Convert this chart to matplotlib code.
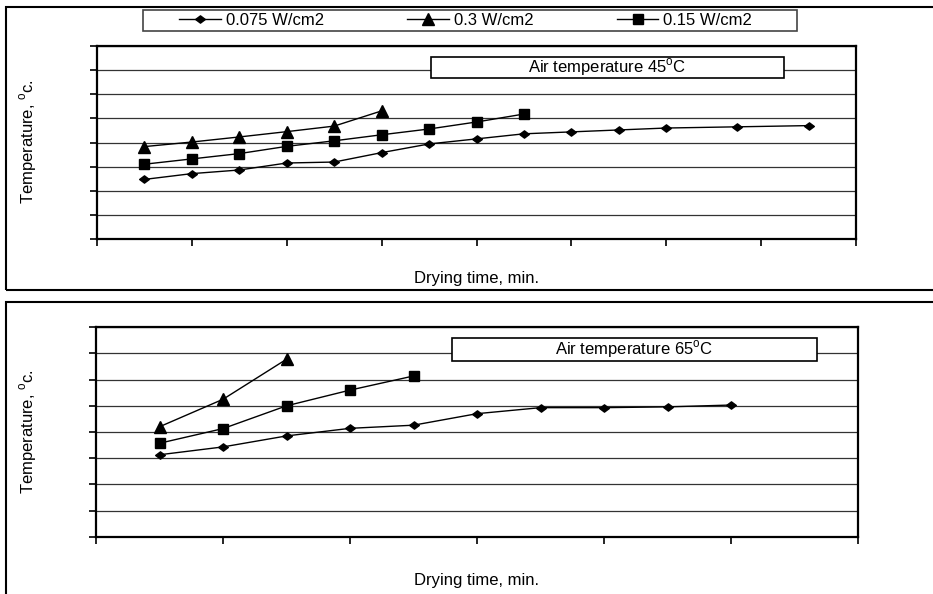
import matplotlib
matplotlib.use("Agg")
import matplotlib.pyplot as plt
from matplotlib.patches import Rectangle
from matplotlib.path import Path
import numpy as np

plt.rcParams['font.family'] = ['Liberation Sans', 'DejaVu Sans']
plt.rcParams['mathtext.fontset'] = 'custom'
plt.rcParams['mathtext.rm'] = 'Liberation Sans'

# ---- data (time in min, temperature in degC) ----
series_labels = ["0.075 W/cm2", "0.3 W/cm2", "0.15 W/cm2"]

t45_low = [10, 20, 30, 40, 50, 60, 70, 80, 90, 100, 110, 120, 135, 150]
T45_low = [24.7, 27.1, 28.6, 31.5, 31.9, 35.8, 39.4, 41.5, 43.6, 44.4, 45.2, 46.0, 46.5, 47.0]
t45_high = [10, 20, 30, 40, 50, 60]
T45_high = [38.3, 40.2, 42.3, 44.5, 46.8, 53.1]
t45_mid = [10, 20, 30, 40, 50, 60, 70, 80, 90]
T45_mid = [31.0, 33.2, 35.4, 38.4, 40.7, 43.2, 45.6, 48.5, 51.8]

t65_low = [10, 20, 30, 40, 50, 60, 70, 80, 90, 100]
T65_low = [31.3, 34.3, 38.5, 41.4, 42.6, 47.0, 49.3, 49.3, 49.6, 50.3]
t65_high = [10, 20, 30]
T65_high = [42.0, 52.5, 67.8]
t65_mid = [10, 20, 30, 40, 50]
T65_mid = [35.7, 41.3, 50.0, 56.0, 61.4]

panel_titles = ["Air temperature 45$^{\\rm o}$C", "Air temperature 65$^{\\rm o}$C"]
xlabel = "Drying time, min."
ylabel = "Temperature, $^{\\rm o}$c."

W, H = 933, 594
fig = plt.figure(figsize=(W / 100, H / 100), dpi=100)

def fx(px):
    return px / W

def fy(py):
    return 1 - py / H

diamond = Path([(-1, 0), (0, 0.75), (1, 0), (0, -0.75), (-1, 0)],
               [Path.MOVETO, Path.LINETO, Path.LINETO, Path.LINETO, Path.CLOSEPOLY])

# outer frames
fig.patches.append(Rectangle((fx(6), fy(290)), fx(940) - fx(6), fy(7) - fy(290),
                             transform=fig.transFigure, fill=False, ec='black', lw=1.5))
fig.patches.append(Rectangle((fx(6), fy(600)), fx(940) - fx(6), fy(302) - fy(600),
                             transform=fig.transFigure, fill=False, ec='black', lw=1.5))

def make_panel(rect, xmax, data, title, boxpx):
    ax = fig.add_axes(rect)
    ax.set_xlim(0, xmax)
    ax.set_ylim(0, 80)
    ax.set_xticks(np.arange(0, xmax + 1, 20))
    ax.set_yticks(np.arange(0, 81, 10))
    ax.set_xticklabels([])
    ax.set_yticklabels([])
    ax.tick_params(direction='out', length=5, width=1.2, color='black')
    for s in ax.spines.values():
        s.set_linewidth(1.6)
        s.set_color('black')
    ax.yaxis.grid(True, color='#333333', lw=0.9)
    ax.set_axisbelow(True)
    handles = []
    markers = [diamond, '^', 's']
    msizes = [7, 8, 7]
    for (x, y), m, ms, lab in zip(data, markers, msizes, series_labels):
        h, = ax.plot(x, y, color='black', lw=1.0, marker=m, ms=ms,
                     mfc='black', mec='black', label=lab, zorder=3)
        handles.append(h)
    x0, x1, y0, y1 = boxpx
    fig.patches.append(Rectangle((fx(x0), fy(y1)), fx(x1) - fx(x0), fy(y0) - fy(y1),
                                 transform=fig.transFigure, fc='white', ec='black',
                                 lw=1.2, zorder=5))
    fig.text(fx((x0 + x1) / 2), fy((y0 + y1) / 2), title, ha='center', va='center',
             fontsize=12, zorder=6)
    return ax, handles

ax1, handles = make_panel([fx(97), fy(239), fx(856) - fx(97), fy(46) - fy(239)], 160,
                          [(t45_low, T45_low), (t45_high, T45_high), (t45_mid, T45_mid)],
                          panel_titles[0], (431, 784, 57, 78))
ax2, _ = make_panel([fx(96), fy(536.7), fx(858) - fx(96), fy(327.3) - fy(536.7)], 120,
                    [(t65_low, T65_low), (t65_high, T65_high), (t65_mid, T65_mid)],
                    panel_titles[1], (452, 817, 338, 361))

# axis labels
fig.text(fx(476), fy(279), xlabel, ha='center', va='center', fontsize=12)
fig.text(fx(476), fy(581), xlabel, ha='center', va='center', fontsize=12)
fig.text(fx(28), fy(142), ylabel, ha='center', va='center', rotation=90, fontsize=12)
fig.text(fx(28), fy(432), ylabel, ha='center', va='center', rotation=90, fontsize=12)

# legend frame + legend
fig.patches.append(Rectangle((fx(143), fy(31)), fx(797) - fx(143), fy(10) - fy(31),
                             transform=fig.transFigure, fc='white', ec='#444444',
                             lw=1.2, zorder=1))
leg = fig.legend(handles, series_labels, ncol=3, loc='center left',
                 bbox_to_anchor=(fx(179), fy(20.5)),
                 frameon=False, fontsize=12,
                 handlelength=2.5, handletextpad=0.3, borderpad=0,
                 borderaxespad=0, columnspacing=5.0)

fig.savefig("out.png", dpi=100)
